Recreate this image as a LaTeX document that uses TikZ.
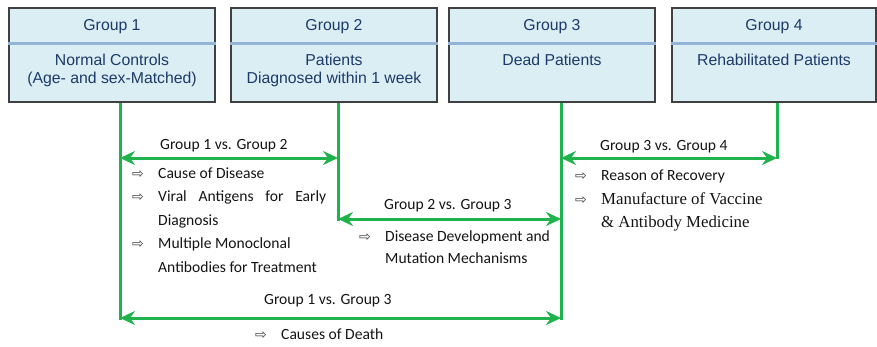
\documentclass[tikz,border=0pt]{standalone}
\usepackage{fontspec}
\setmainfont{Carlito}
\newfontfamily\boxfont{Liberation Sans}
\newfontfamily\serfont{Liberation Serif}
\newfontfamily\symfont{DejaVu Sans}
\usetikzlibrary{arrows.meta}
\definecolor{linkgreen}{RGB}{32,178,76}
\definecolor{boxfill}{RGB}{219,238,244}
\definecolor{boxline}{RGB}{64,64,64}
\definecolor{sepblue}{RGB}{149,179,215}
\definecolor{boxtext}{RGB}{28,58,104}
\definecolor{labeltext}{RGB}{20,20,20}
\newcommand{\bul}{\makebox[26pt][l]{\symfont\fontsize{14}{14}\selectfont\textcolor{boxline}{⇨}}}
\newcommand{\ind}{\hspace*{26pt}}

\begin{document}
\begin{tikzpicture}[x=1pt,y=-1pt,
  grpbox/.style={draw=boxline,fill=boxfill,line width=1.2pt,minimum width=206pt,minimum height=94pt,inner sep=0},
  boxtitle/.style={anchor=base,inner sep=0,text=boxtext,font=\boxfont\fontsize{15.8}{18}\selectfont},
  sepline/.style={draw=sepblue,line width=2.5pt},
  link/.style={draw=linkgreen,line width=3pt},
  both/.style={link,{Stealth[length=15pt,width=14pt,inset=5pt]}-{Stealth[length=15pt,width=14pt,inset=5pt]}},
  cmp/.style={anchor=base west,inner sep=0,text=labeltext,font=\fontsize{15.6}{18}\selectfont},
  list/.style={anchor=base west,inner sep=0,text=labeltext,font=\fontsize{15.6}{23.5}\selectfont}]
\useasboundingbox (0,0) rectangle (877,346);

% groups
\node[grpbox] (g1) at (112,55) {};
\node[grpbox] (g2) at (334,55) {};
\node[grpbox] (g3) at (552,55) {};
\node[grpbox,minimum width=204pt] (g4) at (774,55) {};
\foreach \g in {g1,g2,g3,g4}
  \path[sepline] ([yshift=-36pt]\g.north west) -- ([yshift=-36pt]\g.north east);

\node[boxtitle] (t1) at (112,30) {Group 1};
\node[boxtitle] (t2) at (334,30) {Group 2};
\node[boxtitle] (t3) at (552,30) {Group 3};
\node[boxtitle] (t4) at (774,30) {Group 4};
\node[boxtitle] (b1) at (112,65) {\begin{tabular}[t]{@{}c@{}}Normal Controls\\(Age- and sex-Matched)\end{tabular}};
\node[boxtitle] (b2) at (334,65) {\begin{tabular}[t]{@{}c@{}}Patients\\Diagnosed within 1 week\end{tabular}};
\node[boxtitle] (b3) at (552,65) {Dead Patients};
\node[boxtitle] (b4) at (774,65) {Rehabilitated Patients};

% lines down
\coordinate (v1) at (120,320);
\coordinate (v2) at (338,221);
\coordinate (v3) at (561,320);
\coordinate (v4) at (777,159);
\path[link] (g1.south -| v1) -- (v1);
\path[link] (g2.south -| v2) -- (v2);
\path[link] (g3.south -| v3) -- (v3);
\path[link] (g4.south -| v4) -- (v4);

% comparisons
\coordinate (a12l) at (120,158);
\coordinate (a12r) at (338,158);
\coordinate (a23l) at (338,219);
\coordinate (a23r) at (561,219);
\coordinate (a34l) at (561,158);
\coordinate (a34r) at (777,158);
\coordinate (a13l) at (120,318);
\coordinate (a13r) at (561,318);
\path[both] (a12l) -- (a12r);
\path[both] (a23l) -- (a23r);
\path[both] (a34l) -- (a34r);
\path[both] (a13l) -- (a13r);

\node[cmp] (c12) at (160,149) {Group 1 vs. Group 2};
\node[cmp] (c23) at (384,209) {Group 2 vs. Group 3};
\node[cmp] (c34) at (600,150.5) {Group 3 vs. Group 4};
\node[cmp] (c13) at (264,304) {Group 1 vs. Group 3};

% findings
\node[list] (l12) at (132,178) {\begin{tabular}[t]{@{}l@{}}
\bul Cause of Disease\\
\bul\makebox[168pt][s]{Viral Antigens for Early}\\
\ind Diagnosis\\
\bul Multiple Monoclonal\\
\ind Antibodies for Treatment
\end{tabular}};
\node[list,font=\fontsize{15.6}{21.5}\selectfont] (l23) at (359,241.5) {\begin{tabular}[t]{@{}l@{}}
\bul Disease Development and\\
\ind Mutation Mechanisms
\end{tabular}};
\node[list] (l34) at (575,180.5) {\begin{tabular}[t]{@{}l@{}}
\bul Reason of Recovery\\
\bul{\serfont\fontsize{16.8}{23.5}\selectfont Manufacture of Vaccine}\\
\ind{\serfont\fontsize{16.8}{23.5}\selectfont \& Antibody Medicine}
\end{tabular}};
\node[list] (l13) at (255,339) {\bul Causes of Death};
\end{tikzpicture}
\end{document}
